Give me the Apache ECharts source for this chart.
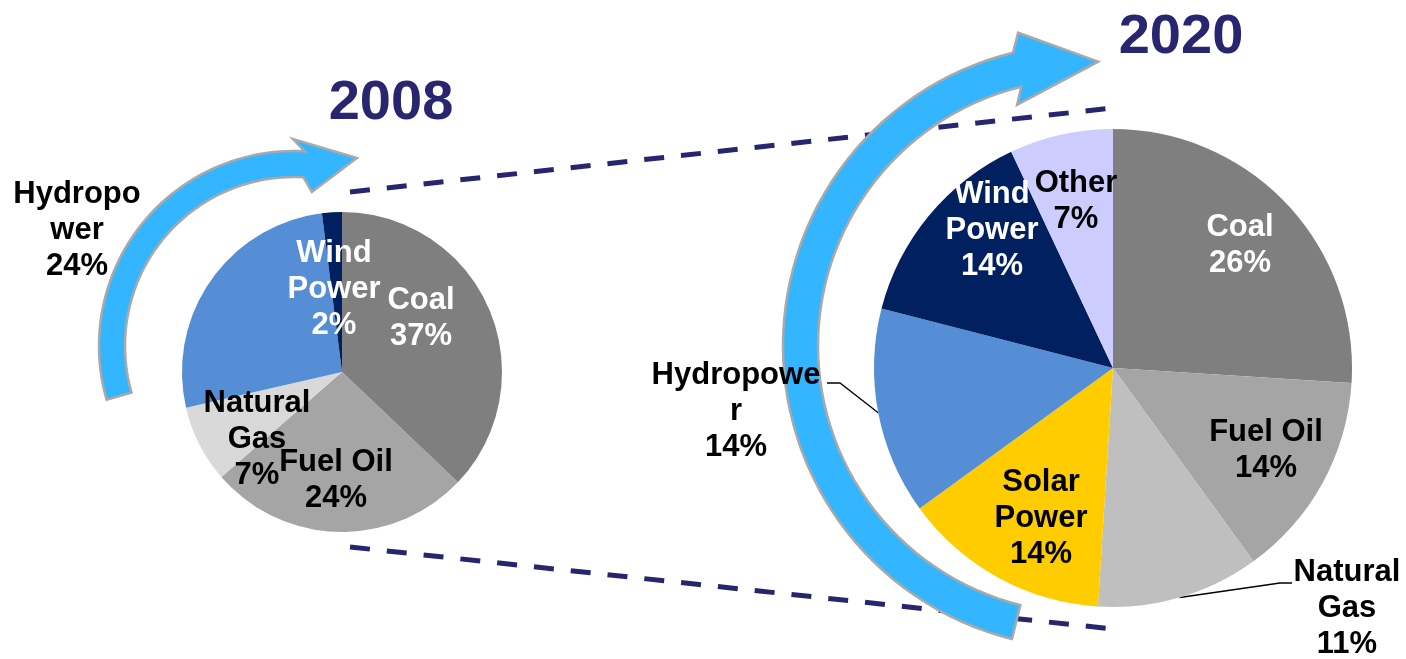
<!DOCTYPE html>
<html>
<head>
<meta charset="utf-8">
<title>Power generation mix 2008 / 2020</title>
<script src="https://cdn.jsdelivr.net/npm/echarts@6/dist/echarts.min.js"></script>
<style>
  html, body { margin: 0; padding: 0; background: #fff; }
  #chart { width: 1406px; height: 659px; }
</style>
</head>
<body>
<div id="chart"></div>
<script>
// ---- data ----
const years = ['2008', '2020'];

const sources2008 = ['Coal', 'Fuel Oil', 'Natural Gas', 'Hydropower', 'Wind Power'];
const share2008 = [37, 26.4, 7.8, 26.5, 2];      // slice sizes as drawn
const pct2008 = [37, 24, 7, 24, 2];              // percentages printed on the slices
const text2008 = ['Coal', 'Fuel Oil', 'Natural\nGas', 'Hydropo\nwer', 'Wind\nPower'];

const sources2020 = ['Coal', 'Fuel Oil', 'Natural Gas', 'Solar Power', 'Hydropower', 'Wind Power', 'Other'];
const share2020 = [26, 14, 11, 14, 14, 14, 7];
const pct2020 = [26, 14, 11, 14, 14, 14, 7];
const text2020 = ['Coal', 'Fuel Oil', 'Natural\nGas', 'Solar\nPower', 'Hydropowe\nr', 'Wind\nPower', 'Other'];

// ---- styles / layout ----
const FONT = "'Liberation Sans', Arial, sans-serif";
const colors2008 = ['#7f7f7f', '#a5a5a5', '#d9d9d9', '#558ed5', '#002060'];
const colors2020 = ['#7f7f7f', '#a5a5a5', '#bfbfbf', '#ffcc00', '#558ed5', '#002060', '#ccccff'];
const whiteText = ['Coal', 'Wind Power'];

// label centres relative to pie centre, leader elbows for the outside labels
const layout2008 = {
  center: [342, 372], radius: 160,
  labels: { 'Coal': [79, -54], 'Fuel Oil': [-6, 108], 'Natural Gas': [-85, 67], 'Hydropower': [-265, -142], 'Wind Power': [-8, -83] },
  leaders: {}
};
const layout2020 = {
  center: [1113, 368], radius: 239,
  labels: { 'Coal': [127, -123], 'Fuel Oil': [153, 82], 'Natural Gas': [234, 240], 'Solar Power': [-72, 150],
            'Hydropower': [-377, 43], 'Wind Power': [-121, -138], 'Other': [-37, -167] },
  leaders: { 'Natural Gas': [[167, 215], [179, 215]], 'Hydropower': [[-273, 15], [-286, 15]] }
};

function midAngles(shares) {
  const total = shares.reduce((s, v) => s + v, 0);
  let acc = 0;
  return shares.map(v => {
    const a = (acc + v / 2) / total * 2 * Math.PI;
    acc += v;
    return a;
  });
}

function pieSeries(year, names, shares, pcts, texts, colors, lay) {
  const mids = midAngles(shares);
  const [cx, cy] = lay.center;
  return {
    type: 'pie',
    name: year,
    center: lay.center,
    radius: lay.radius,
    startAngle: 90,
    clockwise: true,
    avoidLabelOverlap: false,
    silent: true,
    itemStyle: { borderWidth: 0 },
    label: {
      show: true,
      position: 'inside',
      formatter: p => texts[p.dataIndex] + '\n' + pcts[p.dataIndex] + '%',
      fontFamily: FONT,
      fontSize: 31,
      fontWeight: 'bold',
      lineHeight: 36,
      color: '#000'
    },
    labelLine: { show: false },
    data: names.map((n, i) => {
      const item = {
        name: n,
        value: shares[i],
        itemStyle: { color: colors[i] },
        label: { color: whiteText.includes(n) ? '#fff' : '#000' }
      };
      if (lay.leaders[n]) {
        item.label.position = 'outside';
        item.labelLine = { show: true, lineStyle: { color: '#000', width: 1.3 } };
      }
      return item;
    }),
    labelLayout: p => {
      const n = names[p.dataIndex];
      const off = lay.labels[n];
      const res = { x: cx + off[0], y: cy + off[1], align: 'center', verticalAlign: 'middle' };
      const lead = lay.leaders[n];
      if (lead) {
        const a = mids[p.dataIndex];
        res.labelLinePoints = [
          [cx + lay.radius * Math.sin(a), cy - lay.radius * Math.cos(a)],
          [cx + lead[0][0], cy + lead[0][1]],
          [cx + lead[1][0], cy + lead[1][1]]
        ];
      }
      return res;
    }
  };
}

// curved block arrow: arc band + head given in the (tangent, outward) frame at the arc end
function curvedArrow(a) {
  const rad = d => d * Math.PI / 180;
  const at = (t, r) => [a.cx + r * Math.cos(t), a.cy + r * Math.sin(t)];
  const n = 60;
  const pts = [];
  for (let i = 0; i <= n; i++) pts.push(at(rad(a.from + (a.to - a.from) * i / n), a.r + a.half));
  const t1 = rad(a.to);
  const B = at(t1, a.r);
  const T = [-Math.sin(t1), Math.cos(t1)];
  const N = [Math.cos(t1), Math.sin(t1)];
  const loc = ([u, v]) => [B[0] + T[0] * u + N[0] * v, B[1] + T[1] * u + N[1] * v];
  pts.push(loc(a.outer), loc(a.tip), loc(a.inner));
  for (let i = n; i >= 0; i--) pts.push(at(rad(a.from + (a.to - a.from) * i / n), a.r - a.half));
  return pts;
}

const arrow2008 = { cx: 294, cy: 346, r: 182, half: 13, from: 164, to: 273.2,
  outer: [-12.6, 24.6], tip: [52.3, 9.2], inner: [9.3, -27.2] };
const arrow2020 = { cx: 1085, cy: 346, r: 284.5, half: 17.5, from: 104, to: 256.2,
  outer: [9.8, 35.7], tip: [80.6, -11.5], inner: [-8.4, -34] };

const arrowStyle = { fill: '#33b5ff', stroke: '#a9a9a9', lineWidth: 2.5, lineJoin: 'miter' };
const dashStyle = { stroke: '#26256d', lineWidth: 5, lineDash: [20, 17] };
const yearStyle = { fill: '#28266f', fontFamily: FONT, fontSize: 56, fontWeight: 'bold',
  align: 'center', verticalAlign: 'middle', textAlign: 'center', textVerticalAlign: 'middle' };

const chart = echarts.init(document.getElementById('chart'));
chart.setOption({
  animation: false,
  backgroundColor: '#fff',
  graphic: {
    elements: [
      { type: 'line', z: 0, shape: { x1: 350, y1: 192, x2: 1113, y2: 108 }, style: dashStyle },
      { type: 'line', z: 0, shape: { x1: 350, y1: 547, x2: 1113, y2: 629 }, style: dashStyle },
      { type: 'polygon', z: 1, shape: { points: curvedArrow(arrow2008) }, style: arrowStyle },
      { type: 'polygon', z: 1, shape: { points: curvedArrow(arrow2020) }, style: arrowStyle },
      { type: 'text', z: 5, style: Object.assign({ text: years[0], x: 391, y: 104 }, yearStyle) },
      { type: 'text', z: 5, style: Object.assign({ text: years[1], x: 1181, y: 38 }, yearStyle) }
    ]
  },
  series: [
    pieSeries(years[0], sources2008, share2008, pct2008, text2008, colors2008, layout2008),
    pieSeries(years[1], sources2020, share2020, pct2020, text2020, colors2020, layout2020)
  ]
});
</script>
</body>
</html>
